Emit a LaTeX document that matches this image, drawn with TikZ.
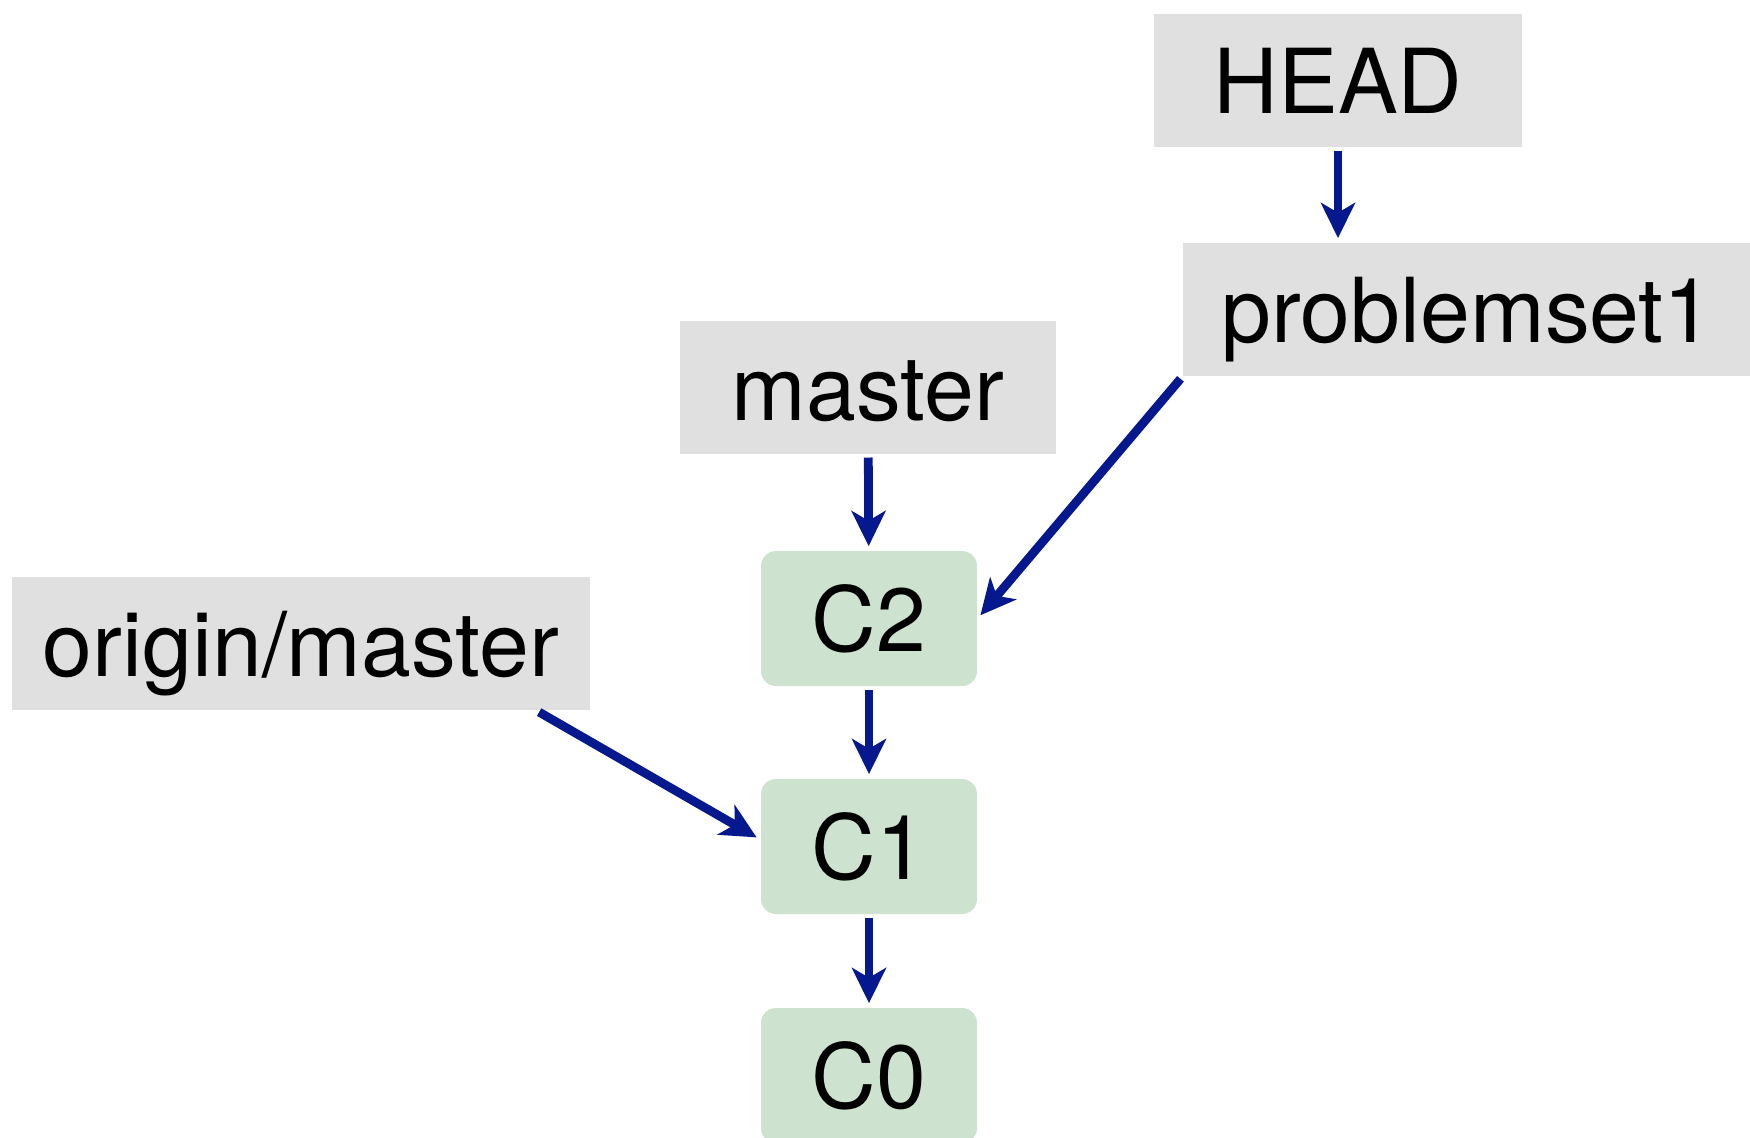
\documentclass[tikz,border=0pt]{standalone}
\usepackage{fontspec}
\setmainfont{TeX Gyre Heros}
\usepackage{tikz}
\usetikzlibrary{arrows.meta}
\usepackage{xcolor}
\definecolor{refgray}{RGB}{224,224,224}
\definecolor{commitgreen}{RGB}{205,227,207}
\definecolor{pointerblue}{RGB}{6,24,142}

\begin{document}
\begin{tikzpicture}[y=-1cm,
        label/.style={fill=refgray, inner sep=0pt, minimum height=1.33cm,
            text height=18.5pt, text depth=0pt, font=\fontsize{25.5}{30}\selectfont},
        commit/.style={fill=commitgreen, rounded corners=0.15cm, inner sep=0pt,
            minimum width=2.16cm, minimum height=1.35cm,
            text height=18.5pt, text depth=0pt, font=\fontsize{25.5}{30}\selectfont},
        pointer/.style={draw=pointerblue, line width=2.5pt,
            -{Stealth[length=10pt, width=9.7pt, inset=2.8pt]},
            shorten <=0.8pt, shorten >=1.2pt}]
        \useasboundingbox (0, 0) rectangle (17.5, 11.38);
        \clip (0, 0) rectangle (17.5, 11.38);
        % Refs
        \node [label, minimum width=3.68cm] (head) at (13.38, 0.81) {HEAD};
        \node [label, minimum width=5.69cm] (pset) at (14.675, 3.095) {problemset1};
        \node [label, minimum width=3.76cm] (master) at (8.68, 3.875) {master};
        \node [label, minimum width=5.78cm] (origin) at (3.01, 6.435) {origin/master};
        % Commits
        \node [commit] (c2) at (8.69, 6.185) {C2};
        \node [commit] (c1) at (8.69, 8.465) {C1};
        \node [commit] (c0) at (8.69, 10.755) {C0};
        % Arrows
        \draw [pointer] (head) -- (head |- pset.north);
        \draw [pointer] (master) -- (c2);
        \draw [pointer] (pset.south west) -- (c2.east);
        \draw [pointer] ([xshift=-0.54cm]origin.south east) -- ([yshift=0.07cm]c1.west);
        \draw [pointer] (c2) -- (c1);
        \draw [pointer] (c1) -- (c0);
    \end{tikzpicture}
\end{document}
